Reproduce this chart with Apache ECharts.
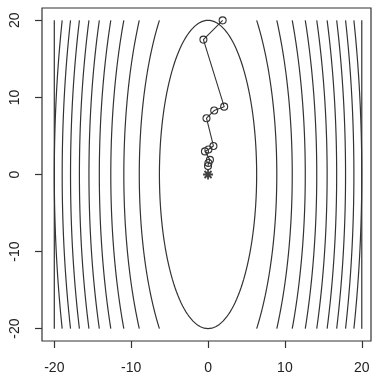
<!DOCTYPE html>
<html>
<head>
<meta charset="utf-8">
<script src="https://cdn.jsdelivr.net/npm/echarts@6/dist/echarts.min.js"></script>
<style>
  html, body { margin: 0; padding: 0; background: #fff; }
  #chart { width: 373px; height: 375px; }
</style>
</head>
<body>
<div id="chart"></div>
<script>
// contour levels of f(x, y) = x^2 + yWeight * y^2
var contourLevels = [40, 80, 120, 160, 200, 240, 280, 320, 360, 400, 440];
var yWeight = 0.1;
var domainMax = 20; // contours are computed on [-20, 20] x [-20, 20]

// descent path (open circles) and the minimum (star)
var pathX = [1.9, -0.6, 2.1, 0.8, -0.2, 0.7, 0.05, -0.4, 0.25, 0.05, 0.0];
var pathY = [20.0, 17.5, 8.8, 8.3, 7.3, 3.7, 3.25, 3.0, 1.9, 1.5, 1.1];
var optimum = [0, 0];

var xTicks = [-20, -10, 0, 10, 20];
var yTicks = [-20, -10, 0, 10, 20];

var ink = "#333";

// level set of the quadratic: x = a cos t, y = b sin t, clipped to the domain
function branch(level, side) {
  var a = Math.sqrt(level);
  var b = Math.sqrt(level / yWeight);
  var t0 = b <= domainMax ? Math.PI / 2 : Math.asin(domainMax / b);
  var steps = 80;
  var pts = [];
  for (var i = 0; i <= steps; i++) {
    var t = -t0 + (2 * t0 * i) / steps;
    var x = side * a * Math.cos(t);
    var y = b * Math.sin(t);
    if (Math.abs(x) <= domainMax + 1e-9) pts.push([x, y]);
  }
  return pts;
}

var series = [];
var dots = [];
contourLevels.forEach(function (lv) {
  [1, -1].forEach(function (side) {
    var pts = branch(lv, side);
    if (pts.length < 2) {
      pts.forEach(function (p) { dots.push(p); });
      return;
    }
    series.push({
      type: "line",
      data: pts,
      showSymbol: false,
      silent: true,
      lineStyle: { color: ink, width: 1.2 },
      z: 1,
    });
  });
});

series.push({
  type: "scatter",
  data: dots,
  symbolSize: 1.5,
  itemStyle: { color: ink },
  silent: true,
});

var pathData = [];
for (var i = 0; i < pathX.length; i++) {
  pathData.push([pathX[i], pathY[i]]);
}
series.push({
  type: "line",
  data: pathData,
  symbol: "circle",
  symbolSize: 7,
  showAllSymbol: true,
  lineStyle: { color: ink, width: 1.1 },
  itemStyle: { color: "rgba(0,0,0,0)", borderColor: ink, borderWidth: 1.1 },
  z: 3,
});

series.push({
  type: "scatter",
  data: [optimum],
  symbol: "path://M5,0 L5,10 M0,5 L10,5 M1.5,1.5 L8.5,8.5 M1.5,8.5 L8.5,1.5",
  symbolSize: 10,
  itemStyle: { color: "rgba(0,0,0,0)", borderColor: "#111", borderWidth: 1.8 },
  z: 4,
});

var chart = echarts.init(document.getElementById("chart"));
chart.setOption({
  animation: false,
  grid: {
    left: 42,
    top: 8,
    width: 329,
    height: 333,
    show: true,
    borderColor: ink,
    borderWidth: 1.2,
    backgroundColor: "#fff",
  },
  xAxis: {
    type: "value",
    min: -21.6,
    max: 21.2,
    axisLine: { show: false, onZero: false },
    splitLine: { show: false },
    axisTick: { show: true, length: 7, lineStyle: { color: ink, width: 1.2 }, customValues: xTicks },
    axisLabel: {
      customValues: xTicks,
      margin: 20,
      color: "#222",
      fontSize: 14,
      fontFamily: "Liberation Sans",
    },
  },
  yAxis: {
    type: "value",
    min: -21.6,
    max: 21.6,
    axisLine: { show: false, onZero: false },
    splitLine: { show: false },
    axisTick: { show: true, length: 7, lineStyle: { color: ink, width: 1.2 }, customValues: yTicks },
    axisLabel: {
      customValues: yTicks,
      rotate: 90,
      margin: 20,
      color: "#222",
      fontSize: 14,
      fontFamily: "Liberation Sans",
    },
  },
  series: series,
});
</script>
</body>
</html>
